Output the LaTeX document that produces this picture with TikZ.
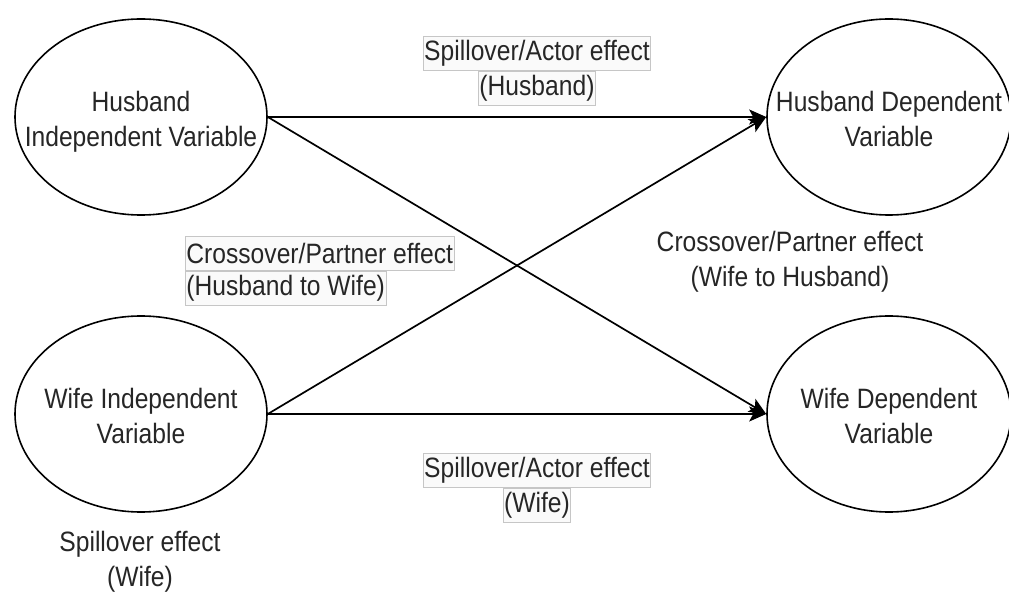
\documentclass[tikz,border=0pt]{standalone}
\usepackage{fontspec}
\setmainfont[FakeStretch=0.88]{Liberation Sans}
\usetikzlibrary{shapes.geometric,arrows.meta}
\newcommand{\zwtext}[1]{\makebox[0pt][c]{\raisebox{-11pt}[0pt][0pt]{\begin{tabular}{@{}c@{}}#1\end{tabular}}}}
\begin{document}
\begin{tikzpicture}[x=1pt,y=-1pt,
  every node/.style={font=\fontsize{28}{35}\selectfont, text=black!85},
  var/.style={ellipse, draw=black, line width=1.6pt, minimum width=252pt, minimum height=196pt, inner sep=0pt},
  conn/.style={line width=1.7pt, -{Stealth[length=17pt,width=15pt,inset=4pt]}},
  lbox/.style={fill=gray!4, draw=gray!45, line width=0.8pt, inner xsep=1pt, inner ysep=0pt, minimum height=34pt},
  plain/.style={align=center, inner sep=0pt}]
\fill[white] (0,0) rectangle (1009,593);
\useasboundingbox (0,0) rectangle (1009,593);
% variables
\node[var] (hiv) at (141,117) {\zwtext{Husband\\Independent Variable}};
\node[var, minimum width=244pt] (hdv) at (889,117) {\zwtext{Husband Dependent\\Variable}};
\node[var] (wiv) at (141,414) {\zwtext{Wife Independent\\Variable}};
\node[var, minimum width=244pt] (wdv) at (889,414) {\zwtext{Wife Dependent\\Variable}};
% connectors
\draw[conn] (hiv.east) -- (hdv.west);
\draw[conn] (hiv.east) -- (wdv.west);
\draw[conn] (wiv.east) -- (hdv.west);
\draw[conn] (wiv.east) -- (wdv.west);
% labels
\node[lbox] (sah1) at (537,88) {(Husband)};
\node[lbox] (sah0) at (537,53) {Spillover/Actor effect};
\node[lbox, anchor=west] (chw1) at (185,288) {(Husband to Wife)};
\node[lbox, anchor=west] (chw0) at (185,253) {Crossover/Partner effect};
\node[plain] (cwh) at (790,262) {Crossover/Partner effect\\(Wife to Husband)};
\node[lbox] (saw1) at (537,505) {(Wife)};
\node[lbox] (saw0) at (537,470) {Spillover/Actor effect};
\node[plain] (sew) at (140,562) {Spillover effect\\(Wife)};
\end{tikzpicture}
\end{document}
